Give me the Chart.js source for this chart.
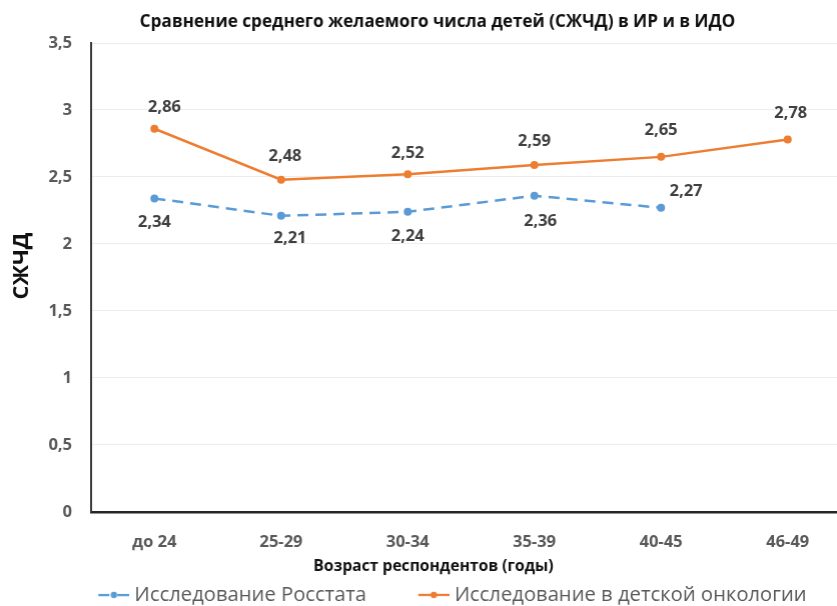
<!DOCTYPE html>
<html><head><meta charset="utf-8">
<script src="https://cdn.jsdelivr.net/npm/chart.js@4"></script>
<style>
html,body{margin:0;padding:0;background:#fff;overflow:hidden;width:837px;height:606px}
#wrap{position:absolute;left:0;top:0;width:880px;height:611px}
</style></head><body>
<div id="wrap"><canvas id="c"></canvas></div>
<script>
const categories = ['до 24', '25-29', '30-34', '35-39', '40-45', '46-49'];
const rosstatValues = [2.34, 2.21, 2.24, 2.36, 2.27];
const oncologyValues = [2.86, 2.48, 2.52, 2.59, 2.65, 2.78];
const yTickValues = [0, 0.5, 1, 1.5, 2, 2.5, 3, 3.5];
const seriesNames = ['Исследование Росстата', 'Исследование в детской онкологии'];
const chartTitle = 'Сравнение среднего желаемого числа детей (СЖЧД) в ИР и в ИДО';
const xTitle = 'Возраст респондентов (годы)';
const yTitle = 'СЖЧД';

const FAMILY = '"Open Sans", "Noto Sans", "DejaVu Sans", sans-serif';
const BLUE = '#5B9BD5', ORANGE = '#ED7D31';

function fitSize(text, weight, target) {
  const g = document.createElement('canvas').getContext('2d');
  g.font = weight + ' 100px ' + FAMILY;
  return 100 * target / g.measureText(text).width;
}
const titleSize = fitSize(chartTitle, 'bold', 595);
const xTitleSize = fitSize(xTitle, 'bold', 240);
const yTitleSize = fitSize(yTitle, 'bold', 67);
const legendSize = fitSize(seriesNames[1], 'normal', 352);

// layout geometry
const XH = 44;                                   // x axis box height
const legendPad = 83 - XH - legendSize / 2;      // legend padding
const boxW = 88 - legendSize / 2 - legendPad;    // legend symbol box width
const imgW = boxW + legendSize - 10;             // symbol image width
const leftGap = boxW + legendSize / 2 - 36;
const W = 2 * (452 - leftGap / 2);
const rightAxisW = W - 850;
const H = Math.round(512 + XH + legendSize + legendPad + 10);
const wrap = document.getElementById('wrap');
wrap.style.height = H + 'px';
wrap.style.width = W + 'px';

function marker(color, dashed) {
  const cv = document.createElement('canvas');
  cv.width = Math.round(imgW); cv.height = 12;
  const g = cv.getContext('2d');
  const x0 = cv.width - 31;
  g.strokeStyle = color; g.lineWidth = 2.25;
  g.beginPath();
  if (dashed) { g.moveTo(x0, 6); g.lineTo(x0 + 11, 6); g.moveTo(x0 + 19, 6); g.lineTo(x0 + 31, 6); }
  else { g.moveTo(x0, 6); g.lineTo(x0 + 31, 6); }
  g.stroke();
  g.fillStyle = color;
  g.beginPath(); g.arc(x0 + 15.5, 6, 3.2, 0, Math.PI * 2); g.fill();
  return cv;
}
const markers = [marker(BLUE, true), marker(ORANGE, false)];

// label offsets relative to the point (dx, dy)
const labelOffsets = [
  [[0, 24], [9, 22], [0, 24], [6, 26], [25, -16]],
  [[10, -21], [4, -23], [0, -21], [0, -24], [0, -27], [3, -26]]
];

const extras = {
  id: 'extras',
  afterDatasetsDraw(chart) {
    const ctx = chart.ctx;
    ctx.save();
    ctx.font = 'bold 16.5px ' + FAMILY;
    ctx.fillStyle = '#404040';
    ctx.textAlign = 'center';
    ctx.textBaseline = 'middle';
    chart.data.datasets.forEach((ds, di) => {
      const meta = chart.getDatasetMeta(di);
      meta.data.forEach((pt, i) => {
        const v = ds.data[i];
        if (v == null) return;
        const off = labelOffsets[di][i];
        ctx.fillText(v.toFixed(2).replace('.', ','), pt.x + off[0], pt.y + off[1]);
      });
    });
    ctx.restore();
  },
  afterDraw(chart) {
    const ctx = chart.ctx;
    ctx.save();
    ctx.fillStyle = '#111';
    ctx.textAlign = 'center';
    ctx.textBaseline = 'middle';
    ctx.font = 'bold ' + titleSize + 'px ' + FAMILY;
    ctx.fillText(chartTitle, 437, 22);
    ctx.font = 'bold ' + xTitleSize + 'px ' + FAMILY;
    ctx.fillText(xTitle, 433, 567);
    ctx.translate(22, 266);
    ctx.rotate(-Math.PI / 2);
    ctx.font = 'bold ' + yTitleSize + 'px ' + FAMILY;
    ctx.fillText(yTitle, 0, 0);
    ctx.restore();
  }
};

const tickFont = { family: FAMILY, size: 16.5, weight: 'bold' };

new Chart(document.getElementById('c'), {
  type: 'line',
  data: {
    labels: categories,
    datasets: [
      { label: seriesNames[0], data: rosstatValues, borderColor: BLUE, backgroundColor: BLUE,
        borderWidth: 2.5, borderDash: [11, 7], pointRadius: 4, pointBorderWidth: 0,
        pointBackgroundColor: BLUE, tension: 0, fill: false },
      { label: seriesNames[1], data: oncologyValues, borderColor: ORANGE, backgroundColor: ORANGE,
        borderWidth: 2.5, pointRadius: 4, pointBorderWidth: 0,
        pointBackgroundColor: ORANGE, tension: 0, fill: false }
    ]
  },
  options: {
    responsive: true,
    maintainAspectRatio: false,
    animation: false,
    devicePixelRatio: 1,
    layout: { padding: { top: 43, left: 0, right: 0, bottom: 0 } },
    plugins: {
      title: { display: false },
      tooltip: { enabled: false },
      legend: {
        position: 'bottom',
        labels: {
          usePointStyle: true,
          pointStyleWidth: boxW,
          padding: legendPad,
          color: '#595959',
          font: { family: FAMILY, size: legendSize },
          generateLabels(chart) {
            return chart.data.datasets.map((ds, i) => ({
              text: ds.label, pointStyle: markers[i], fillStyle: ds.borderColor,
              strokeStyle: ds.borderColor, lineWidth: 0, hidden: false,
              datasetIndex: i, fontColor: '#595959'
            }));
          }
        }
      }
    },
    scales: {
      x: {
        type: 'category',
        offset: true,
        grid: { display: false, drawTicks: false },
        border: { display: true, color: '#262626', width: 2.5 },
        ticks: { color: '#595959', font: tickFont, padding: 21, maxRotation: 0, autoSkip: false },
        afterFit(s) { s.height = XH; }
      },
      y: {
        min: 0, max: 3.5,
        afterBuildTicks(s) { s.ticks = yTickValues.map(v => ({ value: v })); },
        ticks: { color: '#595959', font: tickFont, padding: 19,
          callback: v => String(v).replace('.', ',') },
        grid: { color: '#EDEDED', lineWidth: 1, drawTicks: false },
        border: { display: true, color: '#3a3a3a', width: 2 },
        afterFit(s) { s.width = 91; }
      },
      y2: {
        type: 'linear',
        position: 'right',
        display: true,
        grid: { display: false, drawTicks: false },
        border: { display: false },
        ticks: { display: false },
        afterFit(s) { s.width = rightAxisW; }
      }
    }
  },
  plugins: [extras]
});
</script>
</body></html>
